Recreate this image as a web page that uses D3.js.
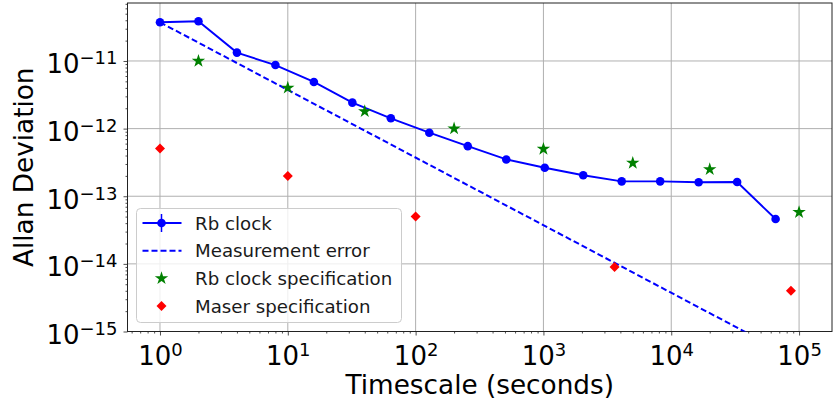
<!DOCTYPE html>
<html lang="en">
<head>
    <meta charset="UTF-8">
    <script src="https://d3js.org/d3.v7.min.js"></script>
    <title>Allan deviation</title>
    <style>
        body { margin: 0; background: #fff; }
        text { font-family: "DejaVu Sans", sans-serif; fill: #000; }
    </style>
</head>
<body>
<div id="viz"></div>
<script>
    // data
    const rbTau = [1, 2, 4, 8, 16, 32, 64, 128, 256, 512, 1024, 2048, 4096, 8192, 16384, 32768, 65536];
    const rbAdev = [3.73e-11, 3.87e-11, 1.33e-11, 8.7e-12, 4.9e-12, 2.42e-12, 1.42e-12, 8.7e-13, 5.5e-13,
        3.5e-13, 2.64e-13, 2.04e-13, 1.66e-13, 1.66e-13, 1.61e-13, 1.62e-13, 4.6e-14];
    const measTau = [1, 65536];
    const measErr = [3.73e-11, 5.7e-16];
    const specTau = [2, 10, 40, 200, 1000, 5000, 20000, 100000];
    const specAdev = [1e-11, 4e-12, 1.8e-12, 1e-12, 5e-13, 3.1e-13, 2.5e-13, 5.8e-14];
    const maserTau = [1, 10, 100, 3600, 86400];
    const maserAdev = [5.1e-13, 2e-13, 5e-14, 9e-15, 4e-15];
    const xTickExp = [0, 1, 2, 3, 4, 5];
    const yTickExp = [-15, -14, -13, -12, -11];
    const legendLabels = ["Rb clock", "Measurement error", "Rb clock specification", "Maser specification"];

    const margin = {top: 3, right: 4, bottom: 72.5, left: 127.5},
        width = 836 - margin.left - margin.right,
        height = 404 - margin.top - margin.bottom;

    const svg = d3.select("#viz")
        .append("svg")
        .attr("width", 836)
        .attr("height", 404)
        .append("g")
        .attr("transform", `translate(${margin.left}, ${margin.top})`);

    const x = d3.scaleLog().domain([0.557, 1.81e5]).range([0, width]);
    const y = d3.scaleLog().domain([1e-15, 7.2e-11]).range([height, 0]);

    // minor tick values
    const minorX = [], minorY = [];
    for (let e = -1; e <= 5; e++) for (let m = 2; m <= 9; m++) {
        const v = m * Math.pow(10, e);
        if (v > x.domain()[0] && v < x.domain()[1]) minorX.push(v);
    }
    for (let e = -15; e <= -11; e++) for (let m = 2; m <= 9; m++) {
        const v = m * Math.pow(10, e);
        if (v > y.domain()[0] && v < y.domain()[1]) minorY.push(v);
    }
    const xMajor = xTickExp.map(e => Math.pow(10, e));
    const yMajor = yTickExp.map(e => Math.pow(10, e));

    // grid
    svg.append("g").selectAll("line").data(xMajor).join("line")
        .attr("x1", d => x(d)).attr("x2", d => x(d))
        .attr("y1", 0).attr("y2", height)
        .attr("stroke", "#b0b0b0").attr("stroke-width", 1);
    svg.append("g").selectAll("line").data(yMajor).join("line")
        .attr("y1", d => y(d)).attr("y2", d => y(d))
        .attr("x1", 0).attr("x2", width)
        .attr("stroke", "#b0b0b0").attr("stroke-width", 1);

    // axes
    function supLabels(sel, exps, anchor) {
        sel.selectAll(".tick text").each(function (d, i) {
            const t = d3.select(this).text(null).attr("text-anchor", anchor);
            t.append("tspan").text("10").style("font-size", "26px");
            const e = exps[i];
            t.append("tspan").text(e < 0 ? "\u2212" + (-e) : e)
                .attr("dy", -9).style("font-size", "18px");
        });
    }

    const gx = svg.append("g").attr("transform", `translate(0, ${height})`);
    gx.call(d3.axisBottom(x).tickValues(minorX).tickSize(2).tickFormat(""));
    const gxm = svg.append("g").attr("transform", `translate(0, ${height})`)
        .call(d3.axisBottom(x).tickValues(xMajor).tickSize(4).tickPadding(2));
    gxm.selectAll(".tick text").attr("y", 33).attr("dy", null);
    supLabels(gxm, xTickExp, "middle");

    const gy = svg.append("g");
    gy.call(d3.axisLeft(y).tickValues(minorY).tickSize(2).tickFormat(""));
    const gym = svg.append("g")
        .call(d3.axisLeft(y).tickValues(yMajor).tickSize(4));
    gym.selectAll(".tick text").attr("x", -10).attr("dy", null).attr("y", 12);
    supLabels(gym, yTickExp, "end");

    svg.selectAll(".domain").remove();
    svg.selectAll(".tick line").attr("stroke", "#222").attr("stroke-width", 0.8);

    // frame
    svg.append("rect")
        .attr("width", width).attr("height", height)
        .attr("fill", "none").attr("stroke", "#222").attr("stroke-width", 1);

    // axis labels
    svg.append("text")
        .attr("x", width / 2).attr("y", height + 62)
        .attr("text-anchor", "middle")
        .style("font-size", "26.3px")
        .text("Timescale (seconds)");
    svg.append("text")
        .attr("transform", `translate(${33 - margin.left}, ${height / 2}) rotate(-90)`)
        .attr("text-anchor", "middle")
        .style("font-size", "26.3px")
        .text("Allan Deviation");

    // plot area
    svg.append("clipPath").attr("id", "clip")
        .append("rect").attr("width", width).attr("height", height);
    const plot = svg.append("g").attr("clip-path", "url(#clip)");

    const line = d3.line().x(d => x(d[0])).y(d => y(d[1]));

    plot.append("path")
        .datum(measTau.map((t, i) => [t, measErr[i]]))
        .attr("d", line)
        .attr("fill", "none").attr("stroke", "#0000ff")
        .attr("stroke-width", 2).attr("stroke-dasharray", "6,3");

    const rb = rbTau.map((t, i) => [t, rbAdev[i]]);
    plot.append("path")
        .datum(rb)
        .attr("d", line)
        .attr("fill", "none").attr("stroke", "#0000ff").attr("stroke-width", 1.9);
    plot.append("g").selectAll("circle").data(rb).join("circle")
        .attr("cx", d => x(d[0])).attr("cy", d => y(d[1]))
        .attr("r", 4.3).attr("fill", "#0000ff");

    const star = d3.symbol().type(d3.symbolStar).size(56);
    plot.append("g").selectAll("path").data(specTau.map((t, i) => [t, specAdev[i]])).join("path")
        .attr("d", star)
        .attr("transform", d => `translate(${x(d[0])}, ${y(d[1])})`)
        .attr("fill", "#008000");

    const diamond = d3.symbol().type(d3.symbolSquare).size(50);
    plot.append("g").selectAll("path").data(maserTau.map((t, i) => [t, maserAdev[i]])).join("path")
        .attr("d", diamond)
        .attr("transform", d => `translate(${x(d[0])}, ${y(d[1])}) rotate(45)`)
        .attr("fill", "#ff0000");

    // legend
    const lg = svg.append("g").attr("transform", `translate(${136.5 - margin.left}, ${208.5 - margin.top})`);
    lg.append("rect")
        .attr("width", 265).attr("height", 114).attr("rx", 4)
        .attr("fill", "#fff").attr("fill-opacity", 0.8)
        .attr("stroke", "#cccccc").attr("stroke-width", 1);
    const rowY = i => 14.5 + i * 27.7;
    const hx0 = 6, hx1 = 45, hxc = 25;
    lg.selectAll("text").data(legendLabels).join("text")
        .attr("x", 58.5).attr("y", (d, i) => rowY(i) + 6.5)
        .style("font-size", "18.2px").style("fill", "#1a1a1a")
        .text(d => d);
    lg.append("line").attr("x1", hx0).attr("x2", hx1).attr("y1", rowY(0)).attr("y2", rowY(0))
        .attr("stroke", "#0000ff").attr("stroke-width", 1.9);
    lg.append("line").attr("x1", hxc).attr("x2", hxc).attr("y1", rowY(0) - 9).attr("y2", rowY(0) + 9)
        .attr("stroke", "#0000ff").attr("stroke-width", 1.5);
    lg.append("circle").attr("cx", hxc).attr("cy", rowY(0)).attr("r", 4.3).attr("fill", "#0000ff");
    lg.append("line").attr("x1", hx0).attr("x2", hx1).attr("y1", rowY(1)).attr("y2", rowY(1))
        .attr("stroke", "#0000ff").attr("stroke-width", 2).attr("stroke-dasharray", "6,3");
    lg.append("path").attr("d", star).attr("transform", `translate(${hxc}, ${rowY(2)})`).attr("fill", "#008000");
    lg.append("path").attr("d", diamond).attr("transform", `translate(${hxc}, ${rowY(3)}) rotate(45)`).attr("fill", "#ff0000");
</script>
</body>
</html>
